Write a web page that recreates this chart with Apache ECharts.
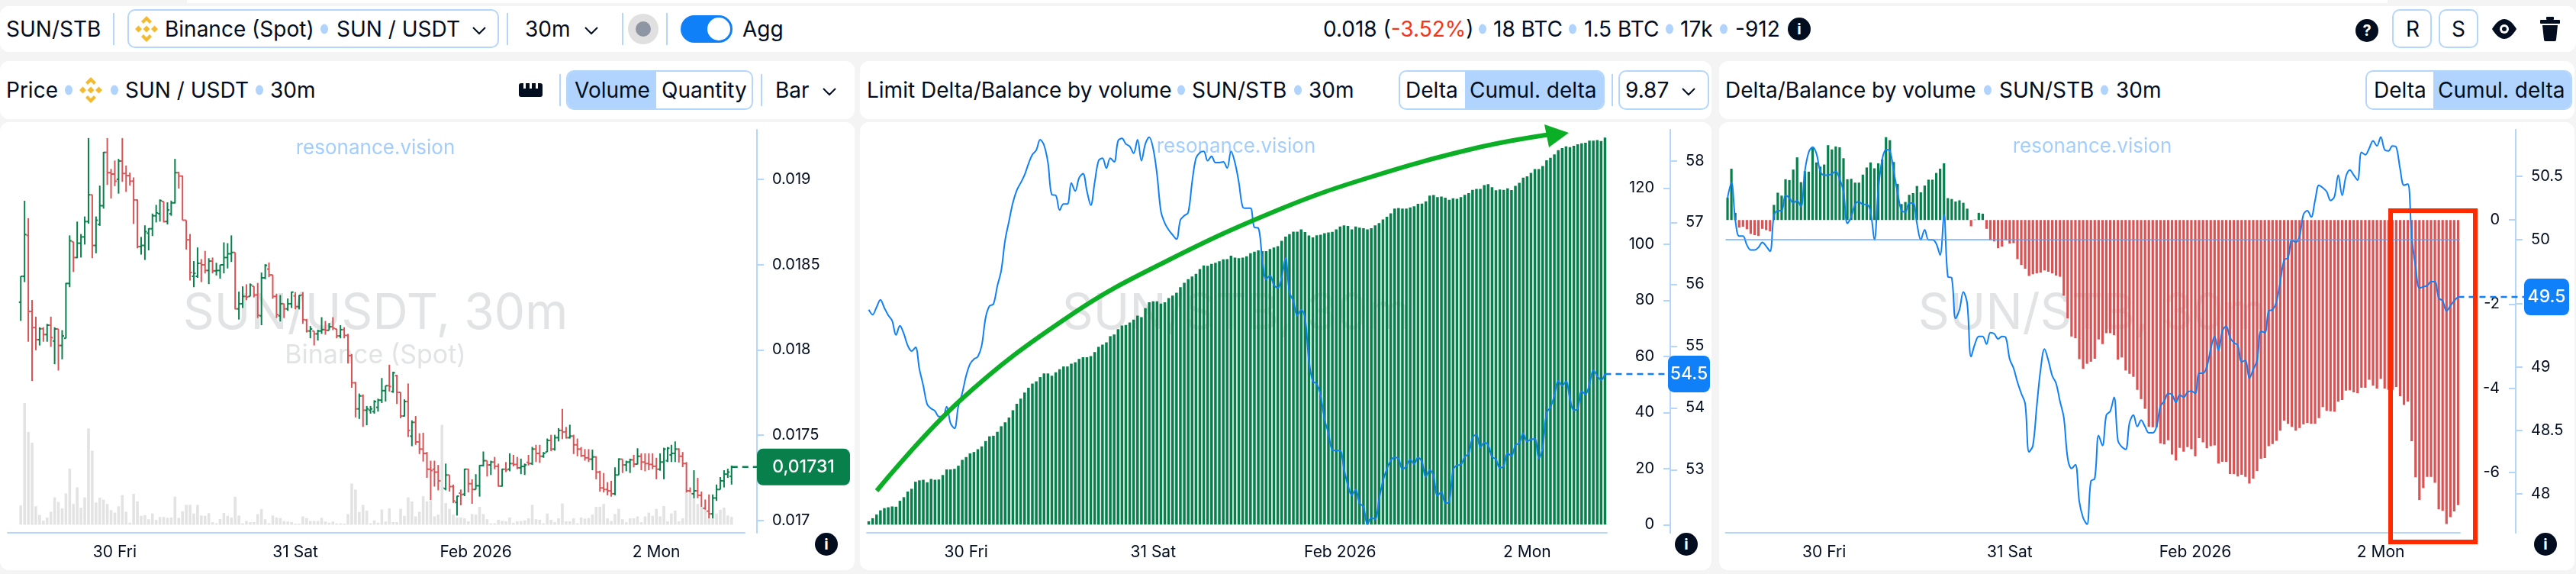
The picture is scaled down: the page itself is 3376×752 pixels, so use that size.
<!DOCTYPE html>
<html lang="en">

<head>
  <meta charset="UTF-8" />
  <title>SUN/STB</title>
  <script src="https://cdn.jsdelivr.net/npm/echarts@6/dist/echarts.min.js"></script>
  <style>
    html, body { margin: 0; padding: 0; background: #f4f4f4; }
    body { width: 3376px; height: 752px; position: relative; overflow: hidden; font-family: Inter, sans-serif; color: #030d20; }
    .card { position: absolute; background: #fff; border-radius: 12px; }
    .lbl { position: absolute; white-space: nowrap; transform: translateY(-50%); font-size: 28px; line-height: 1; }
    .dot { position: absolute; width: 10px; height: 13px; border-radius: 50%; background: #b0d4fd; transform: translate(-50%, -50%); }
    .bar { position: absolute; width: 2px; background: #b5d6fb; }
    .box { position: absolute; box-sizing: border-box; border: 2px solid #b5d6fb; border-radius: 8px; overflow: hidden; }
    .fill { position: absolute; top: 0; bottom: 0; background: #b0d4fd; }
    .ico { position: absolute; transform: translate(-50%, -50%); }
    .info { position: absolute; width: 30px; height: 30px; border-radius: 50%; background: #030d20; color: #fff; font-size: 20px; font-weight: 700; line-height: 30px; text-align: center; transform: translate(-50%, -50%); }
    #main { position: absolute; left: 0; top: 0; width: 3376px; height: 752px; }
  </style>
</head>

<body>
  <div id="ui"></div>
  <div id="main"></div>

  <script>
    // tick positions are bar indexes, the same for all three panels
    const tickIndex = [25, 73, 121, 169];
    const tickLabels = ["30 Fri", "31 Sat", "Feb 2026", "2 Mon"];

    const priceTicks = [0.017, 0.0175, 0.018, 0.0185, 0.019];
    const limitBarTicks = [0, 20, 40, 60, 80, 100, 120];
    const limitLineTicks = [53, 54, 55, 56, 57, 58];
    const deltaBarTicks = [-6, -4, -2, 0];
    const deltaLineTicks = [48, 48.5, 49, 49.5, 50, 50.5];

    // prices in millionths
    const priceOpen = [
      18280,18432,18672,18226,18131,18060,18124,18090,18145,18052,
      18123,18026,18068,18390,18635,18542,18626,18663,18753,18910,
      18613,18736,18846,19159,19040,19032,19001,19108,19035,19023,
      18990,18880,18606,18613,18685,18711,18787,18799,18871,18753,
      18799,18863,19040,19020,18761,18646,18432,18432,18508,18499,
      18466,18521,18464,18466,18499,18542,18564,18572,18241,18271,
      18314,18314,18373,18322,18200,18423,18474,18440,18314,18200,
      18271,18241,18271,18317,18254,18322,18175,18111,18111,18094,
      18111,18119,18115,18136,18123,18082,18119,18085,17967,17807,
      17654,17730,17646,17646,17638,17663,17705,17761,17790,17756,
      17849,17751,17612,17697,17494,17575,17460,17418,17393,17300,
      17300,17283,17232,17186,17266,17198,17105,17160,17153,17300,
      17215,17181,17203,17322,17350,17325,17342,17317,17201,17300,
      17300,17333,17328,17308,17316,17340,17333,17418,17393,17376,
      17401,17469,17418,17485,17528,17519,17485,17494,17443,17418,
      17379,17367,17359,17372,17283,17190,17181,17173,17156,17266,
      17359,17325,17342,17355,17330,17376,17342,17333,17328,17317,
      17300,17342,17350,17384,17393,17418,17376,17333,17173,17156,
      17173,17147,17071,17054,17038,17131,17181,17232,17271,17258
    ];
    const priceHigh = [
      18432,18875,18773,18293,18195,18133,18133,18153,18195,18133,
      18123,18116,18393,18672,18635,18753,18680,18783,19243,18910,
      18783,18964,19162,19243,19062,19111,19121,19243,19082,19040,
      19012,18883,18663,18731,18714,18800,18851,18883,18871,18866,
      18876,19121,19045,19023,18761,18680,18521,18601,18533,18581,
      18538,18542,18511,18499,18631,18626,18672,18572,18342,18373,
      18385,18390,18373,18393,18454,18503,18513,18440,18330,18322,
      18271,18302,18342,18339,18322,18339,18182,18140,18111,18119,
      18192,18170,18158,18192,18123,18145,18133,18094,17976,17812,
      17744,17739,17671,17671,17705,17714,17835,17790,17913,17872,
      17854,17751,17710,17803,17587,17612,17511,17514,17401,17350,
      17350,17325,17241,17333,17266,17210,17144,17181,17303,17303,
      17241,17271,17325,17404,17350,17350,17372,17333,17303,17342,
      17393,17384,17372,17362,17333,17384,17431,17443,17443,17401,
      17480,17502,17502,17541,17654,17548,17561,17502,17480,17430,
      17418,17418,17415,17376,17291,17278,17224,17232,17311,17364,
      17359,17350,17362,17384,17423,17393,17393,17393,17393,17367,
      17393,17426,17430,17443,17463,17423,17401,17342,17193,17294,
      17249,17169,17122,17152,17152,17210,17254,17294,17303,17321
    ];
    const priceLow = [
      18170,18398,18048,17818,17998,18026,18048,18048,18018,17916,
      17879,17945,18068,18368,18457,18538,18542,18618,18741,18538,
      18567,18728,18829,18968,18888,18961,18917,18986,18927,18964,
      18739,18596,18559,18528,18584,18668,18748,18753,18748,18736,
      18787,18859,18947,18761,18589,18407,18368,18423,18398,18449,
      18386,18449,18437,18418,18449,18478,18516,18238,18178,18246,
      18292,18314,18308,18187,18145,18415,18427,18300,18187,18167,
      18187,18229,18246,18238,18238,18153,18102,18068,18026,18055,
      18094,18089,18116,18116,18068,18068,18068,17920,17778,17604,
      17595,17548,17558,17626,17626,17638,17688,17697,17756,17748,
      17683,17599,17609,17489,17435,17443,17389,17345,17249,17119,
      17198,17176,16984,17176,17169,17102,17028,17088,17142,17164,
      17097,17181,17139,17317,17257,17266,17300,17198,17198,17283,
      17288,17317,17300,17271,17266,17322,17325,17342,17337,17367,
      17401,17406,17409,17463,17477,17480,17480,17389,17376,17372,
      17350,17342,17294,17241,17168,17164,17147,17139,17147,17266,
      17278,17288,17278,17311,17328,17294,17288,17294,17300,17241,
      17291,17241,17342,17342,17342,17339,17312,17114,17088,17063,
      17130,17054,17021,17007,16979,17114,17181,17193,17249,17210
    ];
    const priceClose = [
      18432,18677,18226,18131,18060,18124,18090,18145,18072,18123,
      18026,18082,18390,18640,18542,18626,18663,18753,18910,18613,
      18761,18846,19159,19040,19032,18990,19108,19035,19023,18990,
      18880,18606,18613,18694,18711,18787,18804,18876,18753,18821,
      18863,19040,19020,18761,18646,18454,18449,18508,18499,18466,
      18521,18464,18466,18499,18542,18564,18572,18241,18271,18314,
      18310,18381,18322,18204,18423,18496,18440,18314,18207,18271,
      18241,18271,18339,18254,18319,18178,18111,18123,18094,18111,
      18119,18115,18136,18128,18082,18119,18085,17967,17807,17654,
      17730,17646,17654,17654,17697,17705,17761,17790,17785,17866,
      17751,17612,17697,17528,17575,17460,17418,17393,17300,17292,
      17283,17232,17190,17266,17198,17114,17142,17150,17300,17215,
      17181,17203,17322,17350,17325,17342,17317,17201,17300,17296,
      17333,17328,17308,17316,17325,17333,17418,17393,17376,17393,
      17469,17418,17485,17528,17519,17485,17494,17443,17418,17379,
      17367,17359,17372,17283,17190,17181,17173,17156,17266,17359,
      17325,17342,17355,17330,17376,17342,17333,17328,17317,17300,
      17342,17418,17423,17393,17418,17376,17333,17173,17156,17173,
      17147,17071,17054,17038,17131,17181,17232,17271,17283,17313
    ];
    const volume = [
      6.7,42.2,32.2,28.5,6.4,3.4,1.4,2.5,4.5,9.5,
      7.9,5.7,10.9,19.5,7.2,13,5.9,9.5,33.4,25.7,
      7.7,9.4,8.7,7.2,5.1,4.2,6.4,10.3,4.5,0.7,
      10.7,8.1,3.1,3.3,1.9,3.9,1.7,2.7,2.7,2.4,
      2.5,9.7,2.4,4.7,6.9,6.9,3.9,6.9,3.2,3.1,
      4,0.9,0.5,2,4.1,3.1,2.5,9.7,3.2,0.5,
      1.3,0.9,0.9,3.7,5.4,1.9,0.5,3.2,2.5,2.3,
      1.3,1.1,0.9,0.4,0.4,2.9,2.3,1.3,1.3,1.3,
      2.4,1.1,0.7,1.1,0.5,0.5,0.4,3.7,14.3,12.2,
      4.4,6.9,4.9,0.5,1.5,0.7,5.3,1.1,5.7,0.9,
      0.9,5.5,3.1,9.5,8.1,2.9,4.5,9.9,8.1,8.3,
      2.9,3.5,34.7,7.5,5.5,3.5,2.5,2.5,2.2,1.2,
      3.7,3.5,6.2,3.7,1.9,0.5,0.5,1.7,1.3,1.2,
      2.5,0.7,1.2,1.3,1.5,2.2,6.9,1.9,1.7,0.5,
      3.9,1.7,0.9,2.2,7.4,1.2,1.2,2.2,0.5,2.5,
      2.1,2.3,3.5,6.2,6.2,7.2,2.2,1.3,3.7,5.5,
      1.9,0.9,2.2,2.2,2.9,0.9,2.9,4.2,3.1,5.5,
      2.9,6.5,1.2,3.9,4.9,1.2,2.2,11.2,11.2,9.2,
      7.2,6.2,5.2,2.2,2.2,3.9,5.2,5.9,3.2,2.7
    ];

    const limitDelta = [
      1.2,2.3,3.6,5.1,5.9,6.2,6.5,6.4,8.5,9.8,
      11.8,12.8,15.3,15.8,16.0,15.1,16.3,16.0,16.1,17.7,
      19.7,19.7,19.9,21.0,23.1,24.1,25.4,25.9,26.9,27.9,
      29.8,31.5,31.7,33.1,35.1,36.5,38.2,40.8,43.1,44.9,
      47.1,48.8,50.3,51.1,52.6,53.9,53.9,53.1,54.3,55.4,
      56.4,56.4,57.4,57.9,59.1,59.7,59.7,60.1,61.5,63.4,
      64.2,65.0,67.2,67.8,69.7,71.0,71.2,72.1,73.1,74.5,
      74.0,77.2,79.3,79.6,79.6,78.8,79.3,80.8,81.7,82.7,
      84.7,86.2,87.5,88.5,89.4,91.1,92.4,92.3,93.0,93.4,
      93.9,94.6,94.7,95.9,95.2,95.0,95.2,95.7,96.8,97.3,
      97.8,97.5,97.5,98.3,98.8,99.3,101.2,102.7,103.6,104.5,
      104.5,105.3,104.3,103.1,102.4,103.2,103.4,103.9,104.2,104.4,
      105.3,106.3,106.7,106.5,105.3,106.3,105.9,105.7,105.3,105.7,
      106.7,107.5,108.8,109.8,111.0,112.7,112.9,112.7,112.7,113.1,
      113.5,114.4,114.5,115.3,117.3,117.5,116.8,117.0,116.6,115.8,
      116.4,116.2,116.8,117.6,118.2,119.4,119.7,119.7,121.1,121.4,
      120.3,119.2,119.5,119.4,119.9,119.3,120.8,121.9,123.7,124.2,
      125.4,126.8,126.8,127.9,129.9,130.8,132.0,133.5,134.3,134.9,
      134.6,135.1,135.6,136.0,136.2,136.9,136.9,137.1,136.8,138.0
    ];
    const limitBalance = [
      55.59,55.51,55.63,55.75,55.62,55.50,55.41,55.18,55.33,55.20,
      55.01,54.92,54.98,54.63,54.36,54.06,53.99,53.95,53.86,53.86,
      54.02,53.75,53.67,54.03,54.24,54.52,54.71,54.79,54.83,55.01,
      55.46,55.65,55.68,55.97,56.22,56.71,57.02,57.32,57.52,57.64,
      57.77,57.95,58.10,58.17,58.34,58.25,57.97,57.45,57.44,57.20,
      57.30,57.30,57.64,57.51,57.72,57.79,57.51,57.28,57.65,58.00,
      58.04,57.88,58.04,57.98,58.32,58.36,58.27,58.23,58.12,58.34,
      58.00,58.27,58.38,58.20,57.78,57.18,56.99,56.88,56.80,56.73,
      57.04,57.11,57.16,57.65,58.04,58.13,58.15,58.00,58.07,57.97,
      57.97,57.98,57.88,58.15,57.97,57.65,57.25,57.23,57.23,56.92,
      56.91,56.43,56.08,56.14,55.99,55.94,56.11,56.43,55.87,55.73,
      55.49,55.59,55.46,54.76,54.43,54.39,54.20,53.82,53.59,53.32,
      53.31,53.31,53.01,52.75,52.59,52.68,52.46,52.40,52.12,52.22,
      52.20,52.52,52.82,53.01,53.15,53.20,53.18,53.01,53.06,53.17,
      53.09,53.20,53.13,52.88,53.00,52.89,52.58,52.64,52.46,52.48,
      52.99,53.07,53.08,53.21,53.26,53.52,53.57,53.36,53.44,53.40,
      53.21,53.17,53.03,53.06,53.27,53.22,53.40,53.43,53.59,53.46,
      53.49,53.50,53.18,53.36,53.92,54.01,54.20,54.44,54.36,54.43,
      54.15,53.96,53.99,54.27,54.22,54.38,54.61,54.52,54.45,54.55
    ];

    const delta = [
      0.53,1.22,0.17,-0.18,-0.16,-0.22,-0.33,-0.36,-0.38,-0.21,
      -0.24,-0.27,0.36,0.65,0.58,0.97,0.95,1.20,1.49,0.90,
      1.16,1.15,1.71,1.37,1.27,1.32,1.78,1.68,1.75,1.73,
      1.47,0.97,0.98,0.89,0.89,1.08,1.25,1.37,1.23,1.35,
      1.44,1.97,1.90,1.38,0.86,0.38,0.43,0.60,0.64,0.81,
      0.66,0.82,0.96,0.96,1.12,1.22,1.35,0.52,0.50,0.44,
      0.47,0.41,0.27,-0.15,0.01,0.17,0.15,-0.21,-0.48,-0.51,
      -0.67,-0.63,-0.48,-0.56,-0.55,-0.93,-1.07,-1.16,-1.33,-1.29,
      -1.27,-1.25,-1.20,-1.23,-1.27,-1.32,-1.35,-1.80,-2.34,-2.77,
      -2.81,-3.31,-3.54,-3.42,-3.37,-3.30,-2.84,-2.95,-2.69,-2.69,
      -2.74,-3.32,-3.27,-3.58,-3.66,-3.73,-4.04,-4.26,-4.49,-4.92,
      -4.93,-4.93,-5.31,-5.34,-5.24,-5.58,-5.72,-5.42,-5.51,-5.40,
      -5.45,-5.62,-5.19,-5.29,-5.43,-5.38,-5.36,-5.79,-5.75,-5.75,
      -6.04,-6.04,-6.10,-6.06,-6.11,-6.27,-6.15,-5.97,-5.68,-5.66,
      -5.38,-5.33,-5.25,-5.01,-4.77,-4.85,-4.92,-5.01,-4.95,-4.86,
      -4.83,-4.85,-4.85,-4.71,-4.45,-4.54,-4.55,-4.56,-4.32,-4.28,
      -4.06,-4.05,-4.10,-4.12,-3.99,-3.99,-3.80,-3.94,-4.01,-3.78,
      -4.01,-4.04,-4.04,-3.97,-4.19,-4.40,-4.32,-5.26,-6.12,-6.66,
      -6.38,-6.11,-6.11,-6.25,-6.88,-6.92,-7.23,-7.07,-6.93,-6.78
    ];
    const balance = [
      50.33,50.45,50.16,50.03,50.03,49.96,49.92,49.92,49.94,49.98,
      49.95,49.91,50.19,50.23,50.23,50.35,50.33,50.29,50.31,50.26,
      50.54,50.69,50.73,50.68,50.54,50.51,50.51,50.52,50.54,50.48,
      50.38,50.13,50.18,50.28,50.30,50.28,50.28,50.22,50.00,50.40,
      50.63,50.71,50.70,50.54,50.37,50.23,50.22,50.29,50.29,50.13,
      50.00,50.08,50.00,50.00,49.97,49.88,50.20,49.71,49.70,49.38,
      49.45,49.59,49.50,49.08,49.18,49.24,49.24,49.18,49.27,49.26,
      49.22,49.24,49.23,49.06,48.99,48.88,48.79,48.71,48.33,48.38,
      48.69,48.98,49.14,49.05,48.93,48.87,48.73,48.60,48.28,48.20,
      48.23,47.94,47.81,47.76,48.10,48.12,48.46,48.38,48.62,48.65,
      48.76,48.42,48.37,48.35,48.56,48.62,48.53,48.58,48.53,48.48,
      48.48,48.53,48.69,48.73,48.79,48.78,48.72,48.78,48.76,48.80,
      48.81,48.79,48.95,48.95,49.00,49.14,49.24,49.13,49.28,49.32,
      49.23,49.19,49.17,49.04,49.05,48.91,48.98,49.05,49.28,49.27,
      49.44,49.45,49.51,49.67,49.84,49.86,50.00,49.98,50.03,50.20,
      50.23,50.18,50.31,50.43,50.41,50.38,50.31,50.34,50.51,50.35,
      50.50,50.55,50.51,50.47,50.69,50.67,50.72,50.78,50.74,50.81,
      50.71,50.70,50.74,50.73,50.56,50.43,50.44,50.02,49.79,49.62,
      49.63,49.64,49.67,49.67,49.54,49.52,49.44,49.48,49.52,49.55
    ];

    const GREEN = "#07804c";
    const RED = "#d95355";
    const BLUE = "#0f80f7";
    const AXIS = "#b5d6fb";
    const INK = "#030d20";
    const FONT = "Inter, sans-serif";

    // ---- header cards, plain html ----
    const ui = document.getElementById("ui");
    function add(cls, css, html) {
      const d = document.createElement("div");
      d.className = cls;
      d.style.cssText = css;
      if (html) d.innerHTML = html;
      ui.appendChild(d);
      return d;
    }
    const card = (x, y, w, h) => add("card", `left:${x}px;top:${y}px;width:${w}px;height:${h}px`);
    const lbl = (t, x, y) => add("lbl", `left:${x}px;top:${y}px`, t);
    const dot = (x, y) => add("dot", `left:${x}px;top:${y}px`);
    const sep = (x, y) => add("bar", `left:${x}px;top:${y - 21}px;height:42px`);
    const ico = (x, y, svg) => add("ico", `left:${x}px;top:${y}px`, svg);
    const info = (x, y, t) => add("info", `left:${x}px;top:${y}px`, t || "i");
    const chev = (x, y) => ico(x, y, '<svg width="20" height="12" viewBox="0 0 20 12" style="display:block"><path d="M2 2l8 8 8-8" fill="none" stroke="#030d20" stroke-width="2"/></svg>');
    const binance = (x, y) => ico(x, y, '<svg width="30" height="34" viewBox="0 0 30 34" style="display:block" fill="#f3ba2f"><path d="M15 0l7 7-3 3-4-4-4 4-3-3zM15 34l7-7-3-3-4 4-4-4-3 3zM4.5 12.500l4.500 4.500-4.500 4.500L0 17zM25.500 12.500l4.500 4.500-4.500 4.500L21 17zM15 12.500l4.500 4.500-4.500 4.500-4.500-4.500z"/></svg>');
    function segment(x, w, split, leftFilled, a, ax, b, bx) {
      const f = leftFilled ? `left:0;width:${split - x}px` : `left:${split - x}px;right:0`;
      add("box", `left:${x}px;top:92px;width:${w}px;height:52px;border-radius:10px`, `<div class="fill" style="${f}"></div>`);
      lbl(a, ax, 118);
      lbl(b, bx, 118);
    }

    add("card", "left:245px;top:-10px;width:2884px;height:14px;border-radius:0");
    card(0, 8, 3376, 60);
    lbl("SUN/STB", 8, 38);
    sep(148, 38);
    add("box", "left:167px;top:12px;width:487px;height:51px;border-radius:10px");
    binance(192, 38);
    lbl("Binance (Spot)", 216, 38);
    dot(425, 38);
    lbl("SUN / USDT", 441, 38);
    chev(628, 40);
    sep(664, 38);
    lbl("30m", 688, 38);
    chev(775, 40);
    sep(815, 38);
    ico(843, 38, '<svg width="40" height="40" style="display:block"><circle cx="20" cy="20" r="20" fill="#e0e0e0"/><circle cx="20" cy="20" r="10" fill="#8f96a3"/></svg>');
    sep(873, 38);
    ico(926, 38, '<svg width="68" height="36" style="display:block"><rect width="68" height="36" rx="18" fill="#0f80f7"/><circle cx="50" cy="18" r="15" fill="#fff"/></svg>');
    lbl("Agg", 973, 38);

    lbl('0.018 (<span style="color:#f5341a">-3.52%</span>)', 1734, 38);
    dot(1943, 38);
    lbl("18 BTC", 1957, 38);
    dot(2061, 38);
    lbl("1.5 BTC", 2076, 38);
    dot(2188, 38);
    lbl("17k", 2202, 38);
    dot(2259, 38);
    lbl("-912", 2274, 38);
    info(2358, 38);

    info(3102, 40, "?");
    add("box", "left:3135px;top:12px;width:52px;height:51px;border-radius:10px");
    add("box", "left:3196px;top:12px;width:52px;height:51px;border-radius:10px");
    lbl("R", 3153, 38);
    lbl("S", 3213, 38);
    ico(3282, 38, '<svg width="32" height="26" style="display:block"><path d="M16 0C25 0 32 13 32 13S25 26 16 26 0 13 0 13 7 0 16 0z" fill="#030d20"/><circle cx="16" cy="13" r="6" fill="#fff"/><circle cx="16" cy="13" r="3" fill="#030d20"/></svg>');
    ico(3342, 38, '<svg width="26" height="32" style="display:block" fill="#030d20"><rect x="8" y="0" width="10" height="4" rx="1"/><rect x="0" y="4" width="26" height="5" rx="1"/><path d="M3 11h20l-2 19a2 2 0 0 1-2 2H7a2 2 0 0 1-2-2z"/></svg>');

    // panel 1 header
    card(0, 80, 1120, 76);
    lbl("Price", 8, 118);
    dot(90, 118);
    binance(119, 118);
    dot(150, 118);
    lbl("SUN / USDT", 164, 118);
    dot(340, 118);
    lbl("30m", 354, 118);
    ico(696, 118, '<svg width="32" height="18" style="display:block"><path d="M0 3a3 3 0 0 1 3-3h3v7h3V0h5v7h3V0h5v7h3V0h3a3 3 0 0 1 3 3v12a3 3 0 0 1-3 3H3a3 3 0 0 1-3-3z" fill="#030d20"/></svg>');
    sep(733, 118);
    segment(742, 245, 858, true, "Volume", 753, "Quantity", 867);
    sep(997, 118);
    lbl("Bar", 1016, 118);
    chev(1087, 120);

    // panel 2 header
    card(1127, 80, 1116, 76);
    lbl("Limit Delta/Balance by volume", 1136, 118);
    dot(1548, 118);
    lbl("SUN/STB", 1562, 118);
    dot(1701, 118);
    lbl("30m", 1715, 118);
    segment(1833, 270, 1918, false, "Delta", 1842, "Cumul. delta", 1926);
    sep(2112, 118);
    add("box", "left:2121px;top:92px;width:119px;height:52px;border-radius:10px");
    lbl("9.87", 2130, 118);
    chev(2213, 120);

    // panel 3 header
    card(2253, 80, 1121, 76);
    lbl("Delta/Balance by volume", 2261, 118);
    dot(2605, 118);
    lbl("SUN/STB", 2620, 118);
    dot(2758, 118);
    lbl("30m", 2773, 118);
    segment(3100, 271, 3187, false, "Delta", 3111, "Cumul. delta", 3195);

    // chart cards
    card(0, 160, 1120, 587);
    card(1127, 160, 1116, 587);
    card(2253, 160, 1121, 587);
    info(1083, 713);
    info(2210, 713);
    info(3336, 713);

    // ---- charts, one instance with three grids ----
    const PAD = 3; // panel 1 has blank slots either side of the bars
    const labelAt = (i) => tickIndex.indexOf(i) >= 0 ? tickLabels[tickIndex.indexOf(i)] : "";
    const cats = volume.map((v, i) => labelAt(i));
    const blanks = new Array(PAD).fill("");
    const priceCats = blanks.concat(cats, blanks);

    function xAxisFor(gridIndex, data) {
      const hasLabel = (i, v) => v !== "";
      return {
        type: "category",
        gridIndex,
        data,
        axisLine: { onZero: false, lineStyle: { color: AXIS, width: 2 } },
        axisTick: { alignWithLabel: true, length: 9, interval: hasLabel, lineStyle: { color: AXIS, width: 2 } },
        axisLabel: { interval: hasLabel, color: INK, fontFamily: FONT, fontSize: 21, margin: 15, hideOverlap: false },
        splitLine: { show: false }
      };
    }

    function yAxisFor(gridIndex, min, max, offset, ticks, inside) {
      return {
        type: "value",
        gridIndex,
        position: "right",
        offset,
        min,
        max,
        axisLine: { show: true, onZero: false, lineStyle: { color: AXIS, width: 2 } },
        axisTick: { show: true, inside, length: 9, customValues: ticks, lineStyle: { color: AXIS, width: 2 } },
        axisLabel: {
          inside,
          margin: inside ? 21 : 20,
          customValues: ticks,
          color: INK,
          fontFamily: FONT,
          fontSize: 20,
          hideOverlap: false,
          showMinLabel: true,
          showMaxLabel: true,
          formatter: (v) => String(v)
        },
        splitLine: { show: false }
      };
    }

    function renderOhlc(params, api) {
      const x = api.value(0);
      const o = api.coord([x, api.value(1)]);
      const h = api.coord([x, api.value(2)]);
      const l = api.coord([x, api.value(3)]);
      const c = api.coord([x, api.value(4)]);
      const style = { stroke: api.value(4) >= api.value(1) ? GREEN : RED, lineWidth: 2, fill: null };
      const w = 2.5;
      return {
        type: "group",
        children: [
          { type: "line", shape: { x1: h[0], y1: h[1], x2: l[0], y2: l[1] }, style },
          { type: "line", shape: { x1: o[0] - w, y1: o[1], x2: o[0], y2: o[1] }, style },
          { type: "line", shape: { x1: c[0], y1: c[1], x2: c[0] + w, y2: c[1] }, style }
        ]
      };
    }

    const ohlc = priceOpen.map((o, i) => [i + PAD, o / 1e6, priceHigh[i] / 1e6, priceLow[i] / 1e6, priceClose[i] / 1e6]);
    const lineStyleBlue = { color: BLUE, width: 2 };

    const option = {
      animation: false,
      grid: [
        { left: 10, width: 966, top: 170, height: 528 },
        { left: 1136, width: 970, top: 170, height: 528 },
        { left: 2261.5, width: 962.5, top: 170, height: 528 }
      ],
      xAxis: [xAxisFor(0, priceCats), xAxisFor(1, cats), xAxisFor(2, cats)],
      yAxis: [
        yAxisFor(0, 0.016927, 0.0192917, 16, priceTicks, false),
        { type: "value", gridIndex: 0, show: false, min: -2.8, max: 137.1 },
        yAxisFor(1, -2.9, 140.8, 83, limitBarTicks, true),
        yAxisFor(1, 51.98, 58.5, 83, limitLineTicks, false),
        yAxisFor(2, -7.44, 2.147, 73, deltaBarTicks, true),
        yAxisFor(2, 47.693, 50.867, 73, deltaLineTicks, false)
      ],
      series: [
        {
          type: "bar", xAxisIndex: 0, yAxisIndex: 1, barWidth: 3.6,
          data: blanks.map(() => null).concat(volume), itemStyle: { color: "#e3e3e3" }
        },
        {
          type: "custom", xAxisIndex: 0, yAxisIndex: 0, data: ohlc, renderItem: renderOhlc,
          encode: { x: 0, y: [1, 2, 3, 4] }, clip: false
        },
        {
          type: "bar", xAxisIndex: 1, yAxisIndex: 2, barWidth: 3.5,
          data: limitDelta, itemStyle: { color: GREEN }
        },
        {
          type: "line", xAxisIndex: 1, yAxisIndex: 3, data: limitBalance, showSymbol: false,
          smooth: 0.35, lineStyle: lineStyleBlue, itemStyle: { color: BLUE }
        },
        {
          type: "bar", xAxisIndex: 2, yAxisIndex: 4, barWidth: 3.2,
          data: delta.map((v) => ({ value: v, itemStyle: { color: v >= 0 ? GREEN : RED } }))
        },
        {
          type: "line", xAxisIndex: 2, yAxisIndex: 5, data: balance, showSymbol: false,
          smooth: 0.35, lineStyle: lineStyleBlue, itemStyle: { color: BLUE },
          markLine: {
            silent: true, symbol: "none", label: { show: false },
            lineStyle: { color: "rgba(90,160,250,0.65)", width: 2, type: "solid" },
            data: [{ yAxis: 50 }]
          }
        }
      ]
    };

    const chart = echarts.init(document.getElementById("main"), null, { renderer: "canvas" });
    chart.setOption(option);

    // last-price guides and badges sit outside the grids, so they go in as graphics
    function guide(yAxisIndex, xAxisIndex, lastIdx, value, toX, color) {
      const y = chart.convertToPixel({ yAxisIndex }, value);
      const x = chart.convertToPixel({ xAxisIndex }, lastIdx);
      return {
        type: "line", z: 40, shape: { x1: x, y1: y, x2: toX, y2: y },
        style: { stroke: color, lineWidth: 2.5, lineDash: [8, 6] }
      };
    }
    function badge(value, cx, w, text, color, yAxisIndex) {
      const y = chart.convertToPixel({ yAxisIndex }, value);
      return [
        { type: "rect", z: 41, shape: { x: cx - w / 2, y: y - 24, width: w, height: 48, r: 8 }, style: { fill: color } },
        {
          type: "text", z: 42, x: cx, y,
          style: { text, fill: "#fff", font: `500 23px ${FONT}`, align: "center", verticalAlign: "middle" }
        }
      ];
    }
    function mark(text, cx, y, size, color) {
      return {
        type: "text", z: 0, x: cx, y,
        style: { text, fill: color, font: `${size}px ${FONT}`, align: "center", verticalAlign: "middle" }
      };
    }

    const lastPrice = priceClose[priceClose.length - 1] / 1e6;
    const lastLimit = limitBalance[limitBalance.length - 1];
    const lastBalance = balance[balance.length - 1];
    const WM = "#e1e3e5";
    const LINK = "#a3cdfd";

    chart.setOption({
      graphic: [
        mark("SUN/USDT, 30m", 492, 412, 64, WM),
        mark("Binance (Spot)", 492, 466, 34, WM),
        mark("SUN/STB, 30m", 1620, 412, 64, WM),
        mark("SUN/STB, 30m", 2742, 412, 64, WM),
        mark("resonance.vision", 492, 194, 26, LINK),
        mark("resonance.vision", 1620, 192, 26, LINK),
        mark("resonance.vision", 2742, 192, 26, LINK),
        guide(0, 0, priceClose.length - 1 + PAD, lastPrice, 992, GREEN),
        guide(3, 1, limitBalance.length - 1, lastLimit, 2186, BLUE),
        guide(5, 2, balance.length - 1, lastBalance, 3308, BLUE),
        ...badge(lastPrice, 1053, 122, "0,01731", GREEN, 0),
        ...badge(lastLimit, 2213.500, 55, "54.5", BLUE, 3),
        ...badge(lastBalance, 3337.500, 59, "49.5", BLUE, 5),
        // hand-drawn annotations on top of the picture
        {
          type: "polyline", z: 50,
          shape: { points: [[1149, 643], [1259, 524], [1406, 411], [1531, 341], [1680, 273], [1796, 232], [1934, 194], [2032, 176]], smooth: 0.4 },
          style: { stroke: "#0aaf26", lineWidth: 6, fill: null }
        },
        {
          type: "polygon", z: 50,
          shape: { points: [[2056, 174], [2024, 163], [2030, 193]] },
          style: { fill: "#0aaf26" }
        },
        {
          type: "rect", z: 50,
          shape: { x: 3133, y: 276, width: 111, height: 434 },
          style: { stroke: "#ff2a00", lineWidth: 6, fill: null }
        }
      ]
    });
  </script>
</body>

</html>
